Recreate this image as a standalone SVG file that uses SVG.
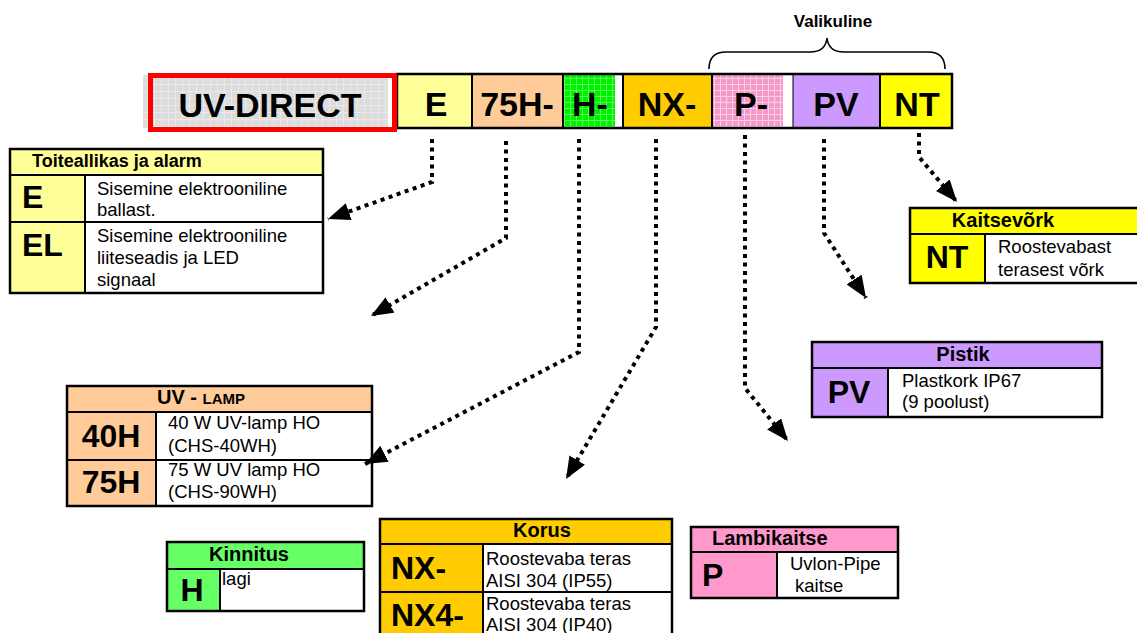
<svg xmlns="http://www.w3.org/2000/svg" width="1137" height="633" viewBox="0 0 1137 633">
<style>
  .b{font-family:"Liberation Sans",Arial,sans-serif;font-weight:bold;fill:#000}
  .r{font-family:"Liberation Sans",Arial,sans-serif;fill:#000;font-size:18.5px}
  .code{font-size:34px}
  .big{font-size:32px}
  .hd{font-size:20px}
  .box{stroke:#000;stroke-width:2.5;fill:none}
  .ln{stroke:#000;stroke-width:2}
  .conn{fill:none;stroke:#000;stroke-width:4;stroke-dasharray:4 4.5}
</style>
<defs>
  <pattern id="pg" width="7" height="7" patternUnits="userSpaceOnUse">
    <rect width="7" height="7" fill="#dcdcdc"/>
    <path d="M0 0.5H7M0.5 0V7" stroke="#e9e9e9" stroke-width="1"/>
  </pattern>
  <pattern id="pgr" width="6" height="6" patternUnits="userSpaceOnUse">
    <rect width="6" height="6" fill="#00f000"/>
    <path d="M0 0.5H6M0.5 0V6" stroke="#55ff55" stroke-width="1"/>
  </pattern>
  <pattern id="ppk" width="6" height="6" patternUnits="userSpaceOnUse">
    <rect width="6" height="6" fill="#f59ac8"/>
    <path d="M0 0.5H6M0.5 0V6" stroke="#fbcfe5" stroke-width="1"/>
  </pattern>
  <marker id="ah" viewBox="0 0 22 18" refX="22" refY="9" markerWidth="22" markerHeight="18" markerUnits="userSpaceOnUse" orient="auto">
    <path d="M0,0 L22,9 L0,18 z" fill="#000"/>
  </marker>
</defs>
<rect width="1137" height="633" fill="#fff"/>

<g id="codebar">
  <rect x="143" y="75" width="245" height="53" fill="url(#pg)"/>
  <rect x="397" y="74" width="75" height="54" fill="#ffff99"/>
  <rect x="472" y="74" width="91" height="54" fill="#ffcc99"/>
  <rect x="563" y="74" width="52" height="54" fill="url(#pgr)"/>
  <rect x="623" y="74" width="89" height="54" fill="#ffcc00"/>
  <rect x="712" y="74" width="71" height="54" fill="url(#ppk)"/>
  <rect x="793" y="74" width="87" height="54" fill="#cc99ff"/>
  <rect x="880" y="74" width="72" height="54" fill="#ffff00"/>
  <rect x="397" y="74" width="555" height="54" class="box"/>
  <path class="ln" d="M472 74V128M563 74V128M623 74V128M712 74V128M880 74V128"/>
  <path d="M793 74V128" stroke="#000" stroke-width="1"/>
  <rect x="150.5" y="75.5" width="244" height="54" fill="none" stroke="#ff0000" stroke-width="5"/>
  <text class="b" x="270" y="117" font-size="34" text-anchor="middle">UV-DIRECT</text>
  <text class="b code" x="436" y="116" text-anchor="middle">E</text>
  <text class="b code" x="517" y="116" text-anchor="middle">75H-</text>
  <text class="b code" x="590" y="116" text-anchor="middle">H-</text>
  <text class="b code" x="667" y="116" text-anchor="middle">NX-</text>
  <text class="b code" x="751" y="116" text-anchor="middle">P-</text>
  <text class="b code" x="836" y="116" text-anchor="middle">PV</text>
  <text class="b code" x="917" y="116" text-anchor="middle">NT</text>
</g>

<g id="valikuline">
  <path d="M709,69 C709,58 714,52 726,52 L810,52 C820,52 826,48 827,38 C828,48 834,52 844,52 L928,52 C940,52 945,58 945,69" fill="none" stroke="#000" stroke-width="1.6"/>
  <text class="b" x="833" y="27" font-size="17" text-anchor="middle">Valikuline</text>
</g>

<g id="connectors">
  <path class="conn" d="M432 139V182L328 219" marker-end="url(#ah)"/>
  <path class="conn" d="M506 141V238L371 316" marker-end="url(#ah)"/>
  <path class="conn" d="M579 139V352L365 464" marker-end="url(#ah)"/>
  <path class="conn" d="M656 139V327L566 479" marker-end="url(#ah)"/>
  <path class="conn" d="M745 135V388L788 441" marker-end="url(#ah)"/>
  <path class="conn" d="M824 139V233L866 298" marker-end="url(#ah)"/>
  <path class="conn" d="M919 133V157L957 202" marker-end="url(#ah)"/>
</g>

<g id="toiteallikas">
  <rect x="10" y="149" width="313" height="26" fill="#ffff99"/>
  <rect x="10" y="175" width="75" height="118" fill="#ffff99"/>
  <rect x="10" y="149" width="313" height="144" class="box"/>
  <path class="ln" d="M10 175H323M85 175V293M10 222H323"/>
  <text class="b" x="32" y="167" font-size="18">Toiteallikas ja alarm</text>
  <text class="b" x="22" y="208" font-size="32">E</text>
  <text class="b" x="22" y="256" font-size="32">EL</text>
  <text class="r" x="97" y="195">Sisemine elektrooniline</text>
  <text class="r" x="97" y="216">ballast.</text>
  <text class="r" x="97" y="242" font-size="19.5">Sisemine elektrooniline</text>
  <text class="r" x="97" y="264" font-size="19.5">liiteseadis ja LED</text>
  <text class="r" x="97" y="286" font-size="19.5">signaal</text>
</g>

<g id="kaitsevork">
  <rect x="910" y="208" width="240" height="26" fill="#ffff00"/>
  <rect x="910" y="234" width="75" height="49" fill="#ffff00"/>
  <rect x="910" y="208" width="240" height="75" class="box"/>
  <path class="ln" d="M910 234H1150M985 234V283"/>
  <text class="b hd" x="1003" y="227" text-anchor="middle">Kaitsevõrk</text>
  <text class="b big" x="947" y="268" text-anchor="middle">NT</text>
  <text class="r" x="998" y="253">Roostevabast</text>
  <text class="r" x="998" y="276">terasest võrk</text>
</g>

<g id="pistik">
  <rect x="812" y="342" width="290" height="26" fill="#cc99ff"/>
  <rect x="812" y="368" width="76" height="49" fill="#cc99ff"/>
  <rect x="812" y="342" width="290" height="75" class="box"/>
  <path class="ln" d="M812 368H1102M888 368V417"/>
  <text class="b hd" x="963" y="361" text-anchor="middle">Pistik</text>
  <text class="b big" x="849" y="403" text-anchor="middle">PV</text>
  <text class="r" x="902" y="387">Plastkork IP67</text>
  <text class="r" x="902" y="408">(9 poolust)</text>
</g>

<g id="uvlamp">
  <rect x="67" y="386" width="305" height="26" fill="#ffcc99"/>
  <rect x="67" y="412" width="89" height="94" fill="#ffcc99"/>
  <rect x="67" y="386" width="305" height="120" class="box"/>
  <path class="ln" d="M67 412H372M156 412V506M67 460H372"/>
  <text class="b" x="201" y="404" font-size="20" text-anchor="middle">UV - <tspan font-size="15">LAMP</tspan></text>
  <text class="b big" x="111" y="447" text-anchor="middle">40H</text>
  <text class="b big" x="111" y="493" text-anchor="middle">75H</text>
  <text class="r" x="168" y="429">40 W UV-lamp HO</text>
  <text class="r" x="168" y="452">(CHS-40WH)</text>
  <text class="r" x="168" y="476">75 W UV lamp HO</text>
  <text class="r" x="168" y="498">(CHS-90WH)</text>
</g>

<g id="kinnitus">
  <rect x="167" y="542" width="197" height="27" fill="#66ff66"/>
  <rect x="167" y="569" width="53" height="42" fill="#66ff66"/>
  <rect x="167" y="542" width="197" height="69" class="box"/>
  <path class="ln" d="M167 569H364M220 569V611"/>
  <text class="b hd" x="249" y="561" text-anchor="middle">Kinnitus</text>
  <text class="b big" x="192" y="601" text-anchor="middle">H</text>
  <text class="r" x="222" y="585">lagi</text>
</g>

<g id="korus">
  <rect x="380" y="519" width="292" height="25" fill="#ffcc00"/>
  <rect x="380" y="544" width="103" height="100" fill="#ffcc00"/>
  <rect x="380" y="519" width="292" height="125" class="box"/>
  <path class="ln" d="M380 544H672M483 544V640M380 592H672"/>
  <text class="b hd" x="542" y="537" text-anchor="middle">Korus</text>
  <text class="b big" x="391" y="579">NX-</text>
  <text class="b big" x="391" y="626">NX4-</text>
  <text class="r" x="486" y="565">Roostevaba teras</text>
  <text class="r" x="486" y="587">AISI 304 (IP55)</text>
  <text class="r" x="486" y="610">Roostevaba teras</text>
  <text class="r" x="486" y="631">AISI 304 (IP40)</text>
</g>

<g id="lambikaitse">
  <rect x="691" y="527" width="207" height="25" fill="#ff99cc"/>
  <rect x="691" y="552" width="86" height="46" fill="#ff99cc"/>
  <rect x="691" y="527" width="207" height="71" class="box"/>
  <path class="ln" d="M691 552H898M777 552V598"/>
  <text class="b hd" x="712" y="545">Lambikaitse</text>
  <text class="b big" x="702" y="586">P</text>
  <text class="r" x="790" y="570">Uvlon-Pipe</text>
  <text class="r" x="795" y="592">kaitse</text>
</g>
</svg>
